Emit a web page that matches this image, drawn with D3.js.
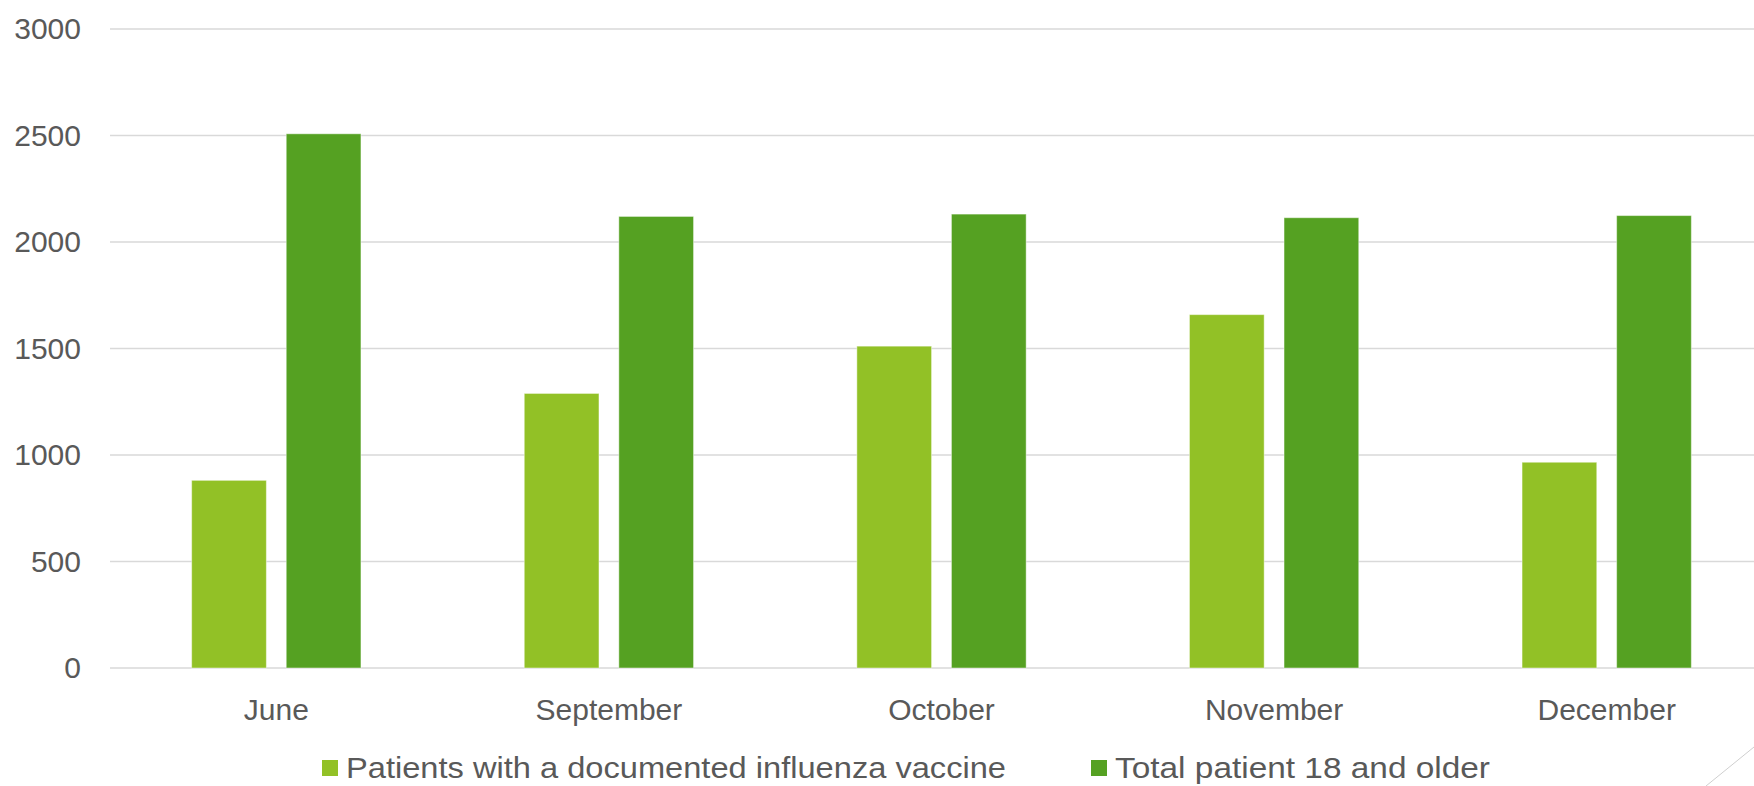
<!DOCTYPE html>
<html>
<head>
<meta charset="utf-8">
<script src="https://cdn.jsdelivr.net/npm/d3@7"></script>
<style>
  html, body { margin: 0; padding: 0; background: #ffffff; }
  svg { display: block; }
  text { font-family: "Liberation Sans", Arial, sans-serif; fill: #595959; }
</style>
</head>
<body>
<svg id="chart" width="1754" height="786"></svg>
<script>
const categories = ["June", "September", "October", "November", "December"];
const seriesNames = ["Patients with a documented influenza vaccine", "Total patient 18 and older"];
const vaccinated = [881, 1289, 1511, 1659, 966];
const totalPatients = [2508, 2120, 2131, 2114, 2124];
const yTicks = [0, 500, 1000, 1500, 2000, 2500, 3000];
const seriesColors = ["#92C126", "#55A122"];

const series = [vaccinated, totalPatients];
const svg = d3.select("#chart");

const x = d3.scaleBand().domain(categories).range([110, 1773]).paddingInner(0.491).paddingOuter(0.2455);
const xInner = d3.scaleBand().domain(d3.range(series.length)).range([0, x.bandwidth()]).paddingInner(0.21);
const y = d3.scaleLinear().domain([0, 3000]).range([668, 29]);

// gridlines
svg.append("g").selectAll("line").data(yTicks).join("line")
  .attr("x1", 110).attr("x2", 1754)
  .attr("y1", d => y(d)).attr("y2", d => y(d))
  .attr("stroke", "#d9d9d9").attr("stroke-width", 1.5);

// y axis labels
const yAxis = d3.axisLeft(y).tickValues(yTicks).tickFormat(d3.format("d")).tickSize(0).tickPadding(0);
const gy = svg.append("g").attr("transform", "translate(81,0)").call(yAxis);
gy.select(".domain").remove();
gy.selectAll("text").attr("font-size", 30).attr("fill", "#595959")
  .style("font-family", '"Liberation Sans", Arial, sans-serif');

// bars
const groups = svg.append("g").selectAll("g").data(categories).join("g")
  .attr("transform", d => `translate(${x(d)},0)`);
groups.selectAll("rect")
  .data((c, i) => series.map((s, k) => ({ k, v: s[i] })))
  .join("rect")
  .attr("x", d => xInner(d.k))
  .attr("width", xInner.bandwidth())
  .attr("y", d => y(d.v))
  .attr("height", d => y(0) - y(d.v))
  .attr("fill", d => seriesColors[d.k])
  .attr("stroke", "rgba(255,255,255,0.45)")
  .attr("stroke-width", 1);

// x axis labels
const xAxis = d3.axisBottom(x).tickSize(0).tickPadding(0);
const gx = svg.append("g").attr("transform", "translate(0,698)").call(xAxis);
gx.select(".domain").remove();
gx.selectAll("text").attr("font-size", 30).attr("fill", "#595959").attr("dy", "0.72em")
  .style("font-family", '"Liberation Sans", Arial, sans-serif');

// legend
const legendPos = [{ sx: 322, tx: 346, w: 660 }, { sx: 1091, tx: 1115, w: 375 }];
const legend = svg.append("g").selectAll("g").data(seriesNames).join("g");
legend.append("rect")
  .attr("x", (d, i) => legendPos[i].sx).attr("y", 760)
  .attr("width", 16).attr("height", 16)
  .attr("fill", (d, i) => seriesColors[i]);
legend.append("text")
  .attr("x", (d, i) => legendPos[i].tx).attr("y", 778)
  .attr("font-size", 30)
  .attr("textLength", (d, i) => legendPos[i].w)
  .attr("lengthAdjust", "spacingAndGlyphs")
  .text(d => d);

// decorative corner line
svg.append("line").attr("x1", 1706).attr("y1", 786).attr("x2", 1754).attr("y2", 747)
  .attr("stroke", "#cfcfcf").attr("stroke-width", 1);
</script>
</body>
</html>
